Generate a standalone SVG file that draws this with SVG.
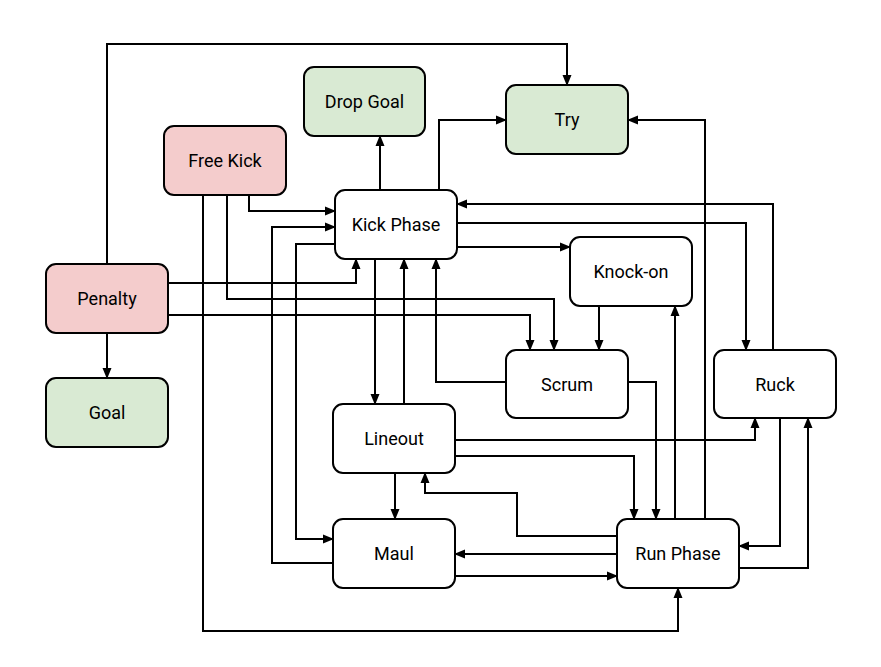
<svg xmlns="http://www.w3.org/2000/svg" width="881" height="667" viewBox="0 0 881 667">
<defs>
<marker id="arr" markerWidth="11" markerHeight="10" refX="10" refY="5" orient="auto" markerUnits="userSpaceOnUse">
<path d="M0,0.5 L11,5 L0,9.5 Z" fill="#000"/>
</marker>
<style>
.n rect{stroke:#000;stroke-width:2;rx:10;ry:10}
.w rect{fill:#fff}
.p rect{fill:#f4cccc}
.g rect{fill:#d9ead3}
.n text{font-family:Roboto,"Liberation Sans",sans-serif;font-size:18px;fill:#000;text-anchor:middle}
#edges path{fill:none;stroke:#000;stroke-width:2;marker-end:url(#arr)}
</style>
</defs>
<rect width="881" height="667" fill="#fff"/>
<g id="edges">
<path d="M107,264 V44 H567 V85"/>
<path d="M380,190 V136"/>
<path d="M439,190 V120 H506"/>
<path d="M705,519 V120 H628"/>
<path d="M773,350 V204 H457"/>
<path d="M457,223 H746 V350"/>
<path d="M457,247 H570"/>
<path d="M249,195 V211 H335"/>
<path d="M333,563 H272 V227 H335"/>
<path d="M335,244 H296 V539 H333"/>
<path d="M203,195 V631 H678 V588"/>
<path d="M227,195 V299 H554 V350"/>
<path d="M168,283 H356 V259"/>
<path d="M168,315 H530 V350"/>
<path d="M107,333 V378"/>
<path d="M375,259 V404"/>
<path d="M404,404 V259"/>
<path d="M506,382 H436 V259"/>
<path d="M599,306 V350"/>
<path d="M675,519 V306"/>
<path d="M628,382 H656 V519"/>
<path d="M455,440 H755 V418"/>
<path d="M455,456 H634 V519"/>
<path d="M617,536 H517 V493 H425 V473"/>
<path d="M395,473 V519"/>
<path d="M617,554 H455"/>
<path d="M455,576 H617"/>
<path d="M780,418 V546 H739"/>
<path d="M739,568 H808 V418"/>
</g>
<g id="dropgoal" class="n g"><rect x="304" y="67" width="121" height="69"/><text x="364.5" y="108">Drop Goal</text></g>
<g id="try" class="n g"><rect x="506" y="85" width="122" height="69"/><text x="567" y="126">Try</text></g>
<g id="freekick" class="n p"><rect x="164" y="126" width="122" height="69"/><text x="225" y="167">Free Kick</text></g>
<g id="kickphase" class="n w"><rect x="335" y="190" width="122" height="69"/><text x="396" y="231">Kick Phase</text></g>
<g id="knockon" class="n w"><rect x="570" y="237" width="122" height="69"/><text x="631" y="278">Knock-on</text></g>
<g id="penalty" class="n p"><rect x="46" y="264" width="122" height="69"/><text x="107" y="305">Penalty</text></g>
<g id="goal" class="n g"><rect x="46" y="378" width="122" height="69"/><text x="107" y="419">Goal</text></g>
<g id="scrum" class="n w"><rect x="506" y="350" width="122" height="68"/><text x="567" y="390.5">Scrum</text></g>
<g id="ruck" class="n w"><rect x="714" y="350" width="122" height="68"/><text x="775" y="390.5">Ruck</text></g>
<g id="lineout" class="n w"><rect x="333" y="404" width="122" height="69"/><text x="394" y="445">Lineout</text></g>
<g id="maul" class="n w"><rect x="333" y="519" width="122" height="69"/><text x="394" y="560">Maul</text></g>
<g id="runphase" class="n w"><rect x="617" y="519" width="122" height="69"/><text x="678" y="560">Run Phase</text></g>
</svg>
